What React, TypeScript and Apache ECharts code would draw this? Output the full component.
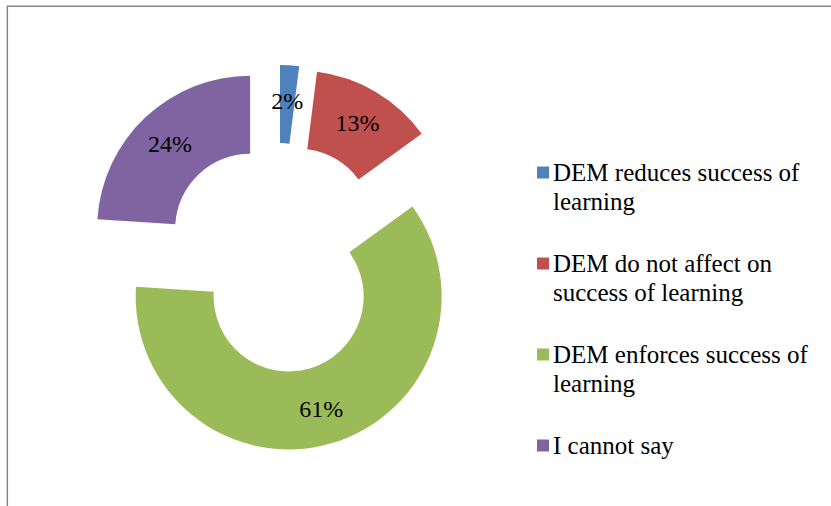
import React, { useEffect, useRef } from 'react';
import * as echarts from 'echarts';

const categories = [
  'DEM reduces success of learning',
  'DEM do not affect on success of learning',
  'DEM enforces success of learning',
  'I cannot say',
];
const values = [2, 13, 61, 24];
const colors = ['#4F81BD', '#C0504D', '#9BBB59', '#8064A2'];

function wrap(text: string, max: number): string[] {
  const words = text.split(' ');
  const lines: string[] = [];
  let cur = '';
  for (const w of words) {
    const next = cur ? cur + ' ' + w : w;
    if (next.length > max && cur) {
      lines.push(cur);
      cur = w;
    } else {
      cur = next;
    }
  }
  if (cur) lines.push(cur);
  return lines;
}

export default function App() {
  const ref = useRef<HTMLDivElement>(null);
  useEffect(() => {
    const chart = echarts.init(ref.current!, null, { renderer: 'svg' });
    const font = 'Liberation Serif';
    const rich: any = {
      t: { fontSize: 25, fontFamily: font, color: '#000', lineHeight: 29 },
      g: { width: 4, height: 12, lineHeight: 29 },
      ind: { width: 16, height: 12, lineHeight: 29 },
    };
    colors.forEach((c, i) => {
      rich['m' + i] = { width: 12, height: 12, backgroundColor: c, lineHeight: 29 };
    });
    chart.setOption({
      animation: false,
      backgroundColor: '#fff',
      textStyle: { fontFamily: font },
      graphic: [
        {
          type: 'rect',
          silent: true,
          z: -10,
          shape: { x: 7.3, y: 6.3, width: 900, height: 600 },
          style: { fill: 'none', stroke: '#888', lineWidth: 1.5 },
        },
      ],
      legend: {
        orient: 'vertical',
        left: 532,
        top: 160,
        padding: 0,
        itemGap: 37,
        itemWidth: 0,
        itemHeight: 0,
        icon: 'rect',
        selectedMode: false,
        data: categories,
        formatter: (name: string) => {
          const i = categories.indexOf(name);
          return wrap(name, 23)
            .map((l, k) => (k === 0 ? `{m${i}|}{g|}` : '{ind|}') + `{t|${l}}`)
            .join('\n');
        },
        textStyle: { fontSize: 25, fontFamily: font, color: '#000', rich },
      },
      series: [
        {
          type: 'pie',
          center: [277.5, 258],
          radius: [75, 153],
          startAngle: 90,
          clockwise: true,
          selectedMode: 'multiple',
          selectedOffset: 40,
          emphasis: { disabled: true },
          label: {
            show: true,
            position: 'inside',
            formatter: '{c}%',
            fontSize: 24,
            fontFamily: font,
            color: '#000',
          },
          labelLine: { show: false },
          data: categories.map((n, i) => ({
            name: n,
            value: values[i],
            selected: true,
            itemStyle: { color: colors[i], borderWidth: 0 },
            select: {
              itemStyle: { color: colors[i], borderWidth: 0 },
              label: { color: '#000', fontFamily: font },
            },
          })),
        },
      ],
    });
    return () => chart.dispose();
  }, []);
  return (
    <div
      ref={ref}
      style={{ position: 'absolute', left: 0, top: 0, width: 831, height: 506 }}
    />
  );
}
